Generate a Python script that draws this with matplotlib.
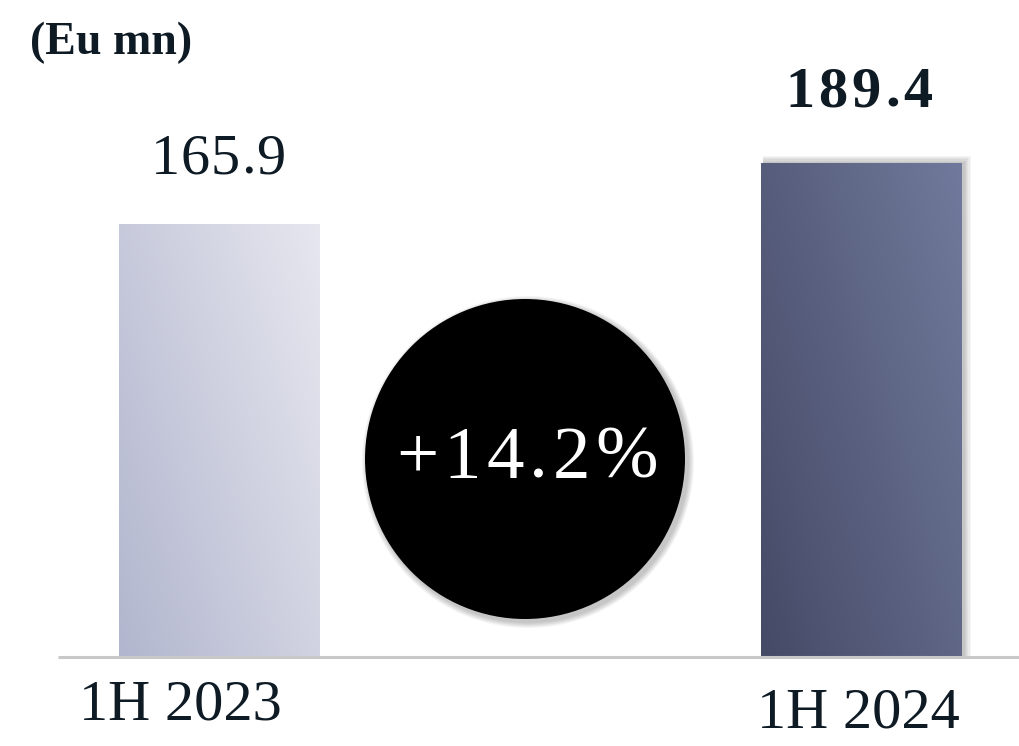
import numpy as np
import matplotlib
matplotlib.use("Agg")
import matplotlib.pyplot as plt
from matplotlib.patches import Rectangle, Ellipse
from matplotlib.colors import LinearSegmentedColormap

categories = ["1H 2023", "1H 2024"]
values = [165.9, 189.4]
value_labels = ["165.9", "189.4"]
growth_label = "+14.2%"
unit_label = "(Eu mn)"

W, H = 1019, 746
fig = plt.figure(figsize=(W / 100, H / 100), dpi=100)
ax = fig.add_axes([0, 0, 1, 1])
ax.set_axis_off()

px_per_x = 641.5
x0_px = 219.5
base_px = 657
px_per_y = 494 / 189.4
ax.set_xlim(-x0_px / px_per_x, (W - x0_px) / px_per_x)
ax.set_ylim(-(H - base_px) / px_per_y, base_px / px_per_y)

FONT = "Liberation Serif"
bar_w = 201 / px_per_x
xs = np.arange(len(categories))
renderer = fig.canvas.get_renderer()


def spaced_text(xc_px, yc_px, s, spacing_px, **kw):
    """Draw string centred at pixel (xc_px, yc_px) with extra letter spacing."""
    widths = []
    for ch in s:
        t = ax.text(0, 0, ch, **kw)
        widths.append(t.get_window_extent(renderer).width)
        t.remove()
    total = sum(widths) + spacing_px * (len(s) - 1)
    x = xc_px - total / 2
    for ch, w in zip(s, widths):
        ax.text((x - x0_px) / px_per_x, (base_px - yc_px) / px_per_y, ch,
                ha="left", va="center", **kw)
        x += w + spacing_px


cmaps = [
    LinearSegmentedColormap.from_list("b1", ["#b2b6ce", "#e6e7ef"]),
    LinearSegmentedColormap.from_list("b2", ["#454a66", "#717a9c"]),
]
gx, gy = np.meshgrid(np.linspace(0, 1, 200), np.linspace(0, 1, 200))
grad = (gx * 0.6 + gy * 0.4)

for i, (x, v) in enumerate(zip(xs, values)):
    if i == 1:
        for k in range(6):
            off = (k + 1) * 1.2
            sh = Rectangle((x - bar_w / 2 + 2 / px_per_x, 0), bar_w + off / px_per_x,
                           v + off / px_per_y, facecolor="black", alpha=0.04,
                           edgecolor="none", zorder=1)
            ax.add_patch(sh)
    rect = Rectangle((x - bar_w / 2, 0), bar_w, v, facecolor="none", edgecolor="none", zorder=2)
    ax.add_patch(rect)
    im = ax.imshow(grad, cmap=cmaps[i], origin="lower", aspect="auto",
                   extent=(x - bar_w / 2, x + bar_w / 2, 0, v), zorder=2)
    im.set_clip_path(rect)

ax.plot([(58 - x0_px) / px_per_x, (W - x0_px) / px_per_x], [0, 0], color="#c8c8c8",
        lw=2.2, zorder=3, solid_capstyle="butt")

txt = dict(family=FONT, color="#0e1a24")
spaced_text(218, 160, value_labels[0], 1, fontsize=42, **txt)
spaced_text(859, 93, value_labels[1], 4, fontsize=42, fontweight="bold", **txt)

ax.text((180 - x0_px) / px_per_x, (base_px - 706) / px_per_y, categories[0], fontsize=42,
        ha="center", va="center", **txt)
ax.text((858 - x0_px) / px_per_x, (base_px - 713) / px_per_y, categories[1], fontsize=42,
        ha="center", va="center", **txt)

ax.text((30 - x0_px) / px_per_x, (base_px - 43) / px_per_y, unit_label, fontsize=33,
        fontweight="bold", ha="left", va="center", **txt)

cx_px, cy_px, r_px = 525, 459, 160
cx = (cx_px - x0_px) / px_per_x
cy = (base_px - cy_px) / px_per_y
for k in range(6):
    off = (k + 1) * 1.0
    ax.add_patch(Ellipse((cx + 3 / px_per_x, cy - 3 / px_per_y),
                         2 * (r_px + off) / px_per_x, 2 * (r_px + off) / px_per_y,
                         facecolor="black", alpha=0.04, edgecolor="none", zorder=4))
ax.add_patch(Ellipse((cx, cy), 2 * r_px / px_per_x, 2 * r_px / px_per_y,
                     facecolor="black", edgecolor="none", zorder=5))
spaced_text(527, 460, growth_label, 5, fontsize=54, family=FONT, color="white", zorder=6)

fig.savefig("out.png", dpi=100)
